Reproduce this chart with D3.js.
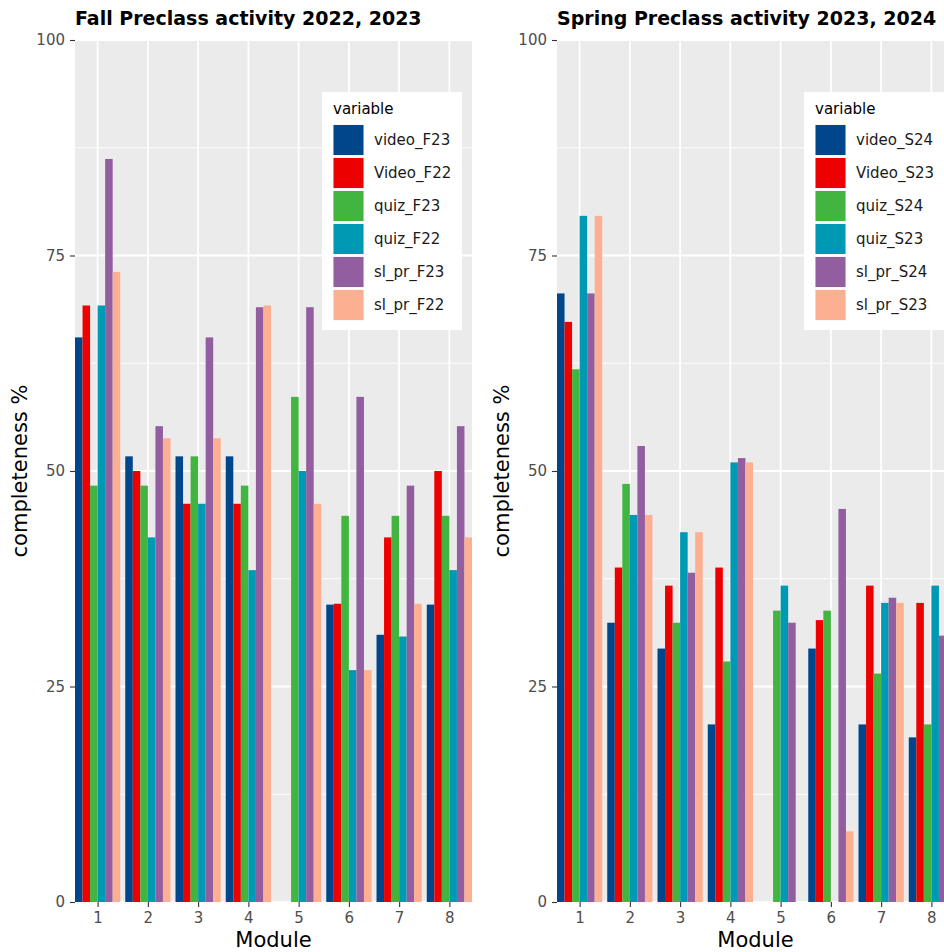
<!DOCTYPE html>
<html><head><meta charset="utf-8">
<script src="https://cdn.jsdelivr.net/npm/d3@7"></script>
<style>body{margin:0;background:#fff}svg{display:block}text{font-family:"DejaVu Sans",sans-serif}</style>
</head><body><svg id="c" width="944" height="952"></svg>
<script>
const modules = [1,2,3,4,5,6,7,8];
const yTicks = [0,25,50,75,100];
const yMinor = [12.5,37.5,62.5,87.5];
const colors = ["#00468B","#ED0000","#42B540","#0099B4","#925E9F","#FDAF91"];

const fallTitle = "Fall Preclass activity 2022, 2023";
const fallSeries = ["video_F23","Video_F22","quiz_F23","quiz_F22","sl_pr_F23","sl_pr_F22"];
const video_F23 = [65.5,51.7,51.7,51.7,null,34.5,31.0,34.5];
const Video_F22 = [69.2,50.0,46.2,46.2,null,34.6,42.3,50.0];
const quiz_F23  = [48.3,48.3,51.7,48.3,58.6,44.8,44.8,44.8];
const quiz_F22  = [69.2,42.3,46.2,38.5,50.0,26.9,30.8,38.5];
const sl_pr_F23 = [86.2,55.2,65.5,69.0,69.0,58.6,48.3,55.2];
const sl_pr_F22 = [73.1,53.8,53.8,69.2,46.2,26.9,34.6,42.3];

const springTitle = "Spring Preclass activity 2023, 2024";
const springSeries = ["video_S24","Video_S23","quiz_S24","quiz_S23","sl_pr_S24","sl_pr_S23"];
const video_S24 = [70.6,32.4,29.4,20.6,null,29.4,20.6,19.1];
const Video_S23 = [67.3,38.8,36.7,38.8,null,32.7,36.7,34.7];
const quiz_S24  = [61.8,48.5,32.4,27.9,33.8,33.8,26.5,20.6];
const quiz_S23  = [79.6,44.9,42.9,51.0,36.7,null,34.7,36.7];
const sl_pr_S24 = [70.6,52.9,38.2,51.5,32.4,45.6,35.3,30.9];
const sl_pr_S23 = [79.6,44.9,42.9,51.0,null,8.2,34.7,34.7];

const svg = d3.select("#c");

function panel(x0, title, seriesNames, seriesVals) {
  const x1 = x0 + 397, yTop = 40, yBot = 902;
  const x = d3.scaleLinear().domain([0.55, 8.45]).range([x0, x1]);
  const y = d3.scaleLinear().domain([0, 100]).range([yBot, yTop]);
  const g = svg.append("g");
  g.append("rect").attr("x", x0).attr("y", yTop).attr("width", x1 - x0).attr("height", yBot - yTop).attr("fill", "#EBEBEB");
  g.selectAll(".ymin").data(yMinor).join("line")
    .attr("x1", x0).attr("x2", x1).attr("y1", d => y(d)).attr("y2", d => y(d))
    .attr("stroke", "#fff").attr("stroke-width", 0.9);
  g.selectAll(".ymaj").data(yTicks).join("line")
    .attr("x1", x0).attr("x2", x1).attr("y1", d => y(d)).attr("y2", d => y(d))
    .attr("stroke", "#fff").attr("stroke-width", 1.8);
  g.selectAll(".xmaj").data(modules).join("line")
    .attr("x1", d => x(d)).attr("x2", d => x(d)).attr("y1", yTop).attr("y2", yBot)
    .attr("stroke", "#fff").attr("stroke-width", 1.8);
  const bw = 0.9 / seriesNames.length;
  seriesNames.forEach((s, i) => {
    const vals = seriesVals[i];
    g.append("g").selectAll("rect").data(modules.map((m, j) => ({m, v: vals[j]})).filter(d => d.v != null))
      .join("rect")
      .attr("x", d => x(d.m - 0.45 + i * bw))
      .attr("width", d => x(d.m - 0.45 + (i + 1) * bw) - x(d.m - 0.45 + i * bw))
      .attr("y", d => y(d.v)).attr("height", d => y(0) - y(d.v))
      .attr("fill", colors[i]);
  });
  // axes
  const ya = g.append("g").attr("transform", `translate(${x0},0)`)
    .call(d3.axisLeft(y).tickValues(yTicks).tickSize(5).tickPadding(5));
  const xa = g.append("g").attr("transform", `translate(0,${yBot})`)
    .call(d3.axisBottom(x).tickValues(modules).tickSize(5).tickPadding(5));
  [ya, xa].forEach(a => {
    a.select(".domain").remove();
    a.selectAll("line").attr("stroke", "#333").attr("stroke-width", 1.1);
    a.selectAll("text").attr("fill", "#4D4D4D").style("font-size", "15px").style("font-family", "DejaVu Sans");
  });
  g.append("text").attr("x", x0).attr("y", 25).text(title)
    .style("font-size", "19px").style("font-weight", "bold").attr("fill", "#000");
  g.append("text").attr("x", (x0 + x1) / 2).attr("y", 947).attr("text-anchor", "middle")
    .text("Module").style("font-size", "21px").attr("fill", "#000");
  g.append("text").attr("transform", `translate(${x0 - 48},${(yTop + yBot) / 2}) rotate(-90)`)
    .attr("text-anchor", "middle").text("completeness %").style("font-size", "21px").attr("fill", "#000");
  // legend
  const lx = x0 + 247, ly = 92;
  const lg = g.append("g");
  lg.append("rect").attr("x", lx).attr("y", ly).attr("width", 140).attr("height", 238).attr("fill", "#fff");
  lg.append("text").attr("x", lx + 11).attr("y", ly + 22).text("variable").style("font-size", "15px").attr("fill", "#000");
  seriesNames.forEach((s, i) => {
    const ky = ly + 32.5 + i * 33;
    lg.append("rect").attr("x", lx + 11).attr("y", ky).attr("width", 31).attr("height", 31).attr("fill", "#F2F2F2");
    lg.append("rect").attr("x", lx + 11.5).attr("y", ky + 0.5).attr("width", 30).attr("height", 30).attr("fill", colors[i]);
    lg.append("text").attr("x", lx + 52).attr("y", ky + 15.5).attr("dy", "0.35em").text(s)
      .style("font-size", "15px").attr("fill", "#1A1A1A");
  });
}

panel(75, fallTitle, fallSeries, [video_F23, Video_F22, quiz_F23, quiz_F22, sl_pr_F23, sl_pr_F22]);
panel(557, springTitle, springSeries, [video_S24, Video_S23, quiz_S24, quiz_S23, sl_pr_S24, sl_pr_S23]);
</script></body></html>
